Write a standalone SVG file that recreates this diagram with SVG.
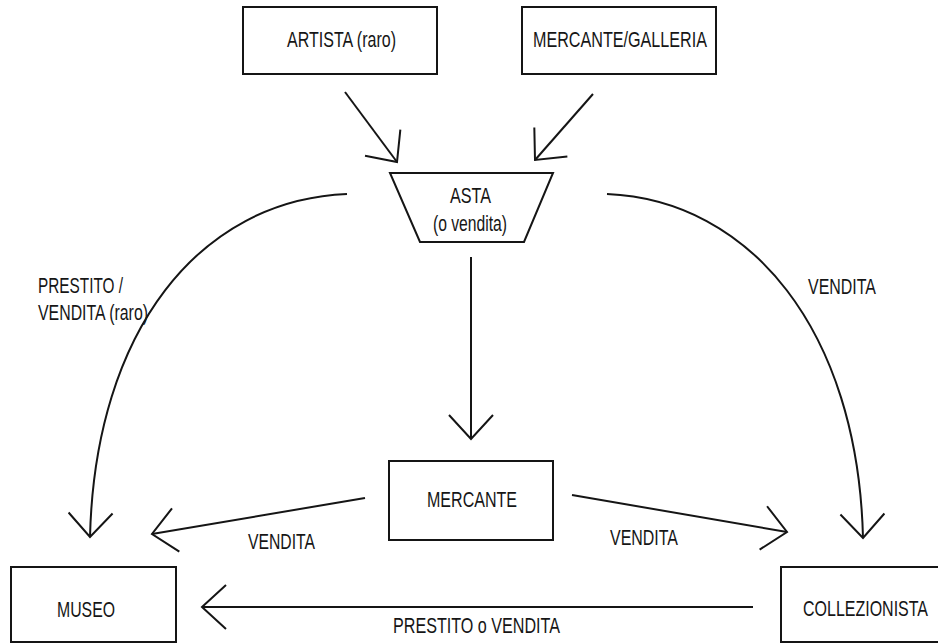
<svg xmlns="http://www.w3.org/2000/svg" width="938" height="644" viewBox="0 0 938 644">
  <defs>
    <style>
      .box { fill: #fff; stroke: #151515; stroke-width: 2; }
      .edge { fill: none; stroke: #151515; stroke-width: 2; marker-end: url(#open); }
      .lbl { font-family: "Liberation Sans", Arial, sans-serif; font-size: 22px; fill: #161616; }
    </style>
    <!-- open V arrowhead -->
    <marker id="open" markerUnits="userSpaceOnUse" markerWidth="60" markerHeight="60" refX="0" refY="0" orient="auto" overflow="visible">
      <path d="M-24,-22 L0,0 L-24,22" fill="none" stroke="#151515" stroke-width="2"/>
    </marker>
  </defs>

  <rect width="938" height="644" fill="#fff"/>

  <g id="connectors">
    <line class="edge" x1="345" y1="92" x2="397" y2="162"/>
    <line class="edge" x1="593" y1="94" x2="535" y2="160"/>
    <path class="edge" d="M347,194 C200,200 95,330 90,537"/>
    <path class="edge" d="M607,194 C750,200 858,330 863,538"/>
    <line class="edge" x1="471" y1="257" x2="471" y2="439"/>
    <line class="edge" x1="365" y1="498" x2="152" y2="534"/>
    <line class="edge" x1="572" y1="495" x2="787" y2="532"/>
    <line class="edge" x1="753" y1="607" x2="202" y2="607"/>

    <text class="lbl" x="38" y="293" textLength="85" lengthAdjust="spacingAndGlyphs">PRESTITO /</text>
    <text class="lbl" x="38" y="320" textLength="110" lengthAdjust="spacingAndGlyphs">VENDITA (raro)</text>
    <text class="lbl" x="808" y="294" textLength="68" lengthAdjust="spacingAndGlyphs">VENDITA</text>
    <text class="lbl" x="248" y="549" textLength="67" lengthAdjust="spacingAndGlyphs">VENDITA</text>
    <text class="lbl" x="610" y="545" textLength="68" lengthAdjust="spacingAndGlyphs">VENDITA</text>
    <text class="lbl" x="393" y="633" textLength="167" lengthAdjust="spacingAndGlyphs">PRESTITO o VENDITA</text>
  </g>

  <g id="artista">
    <rect class="box" x="243" y="7" width="194" height="67"/>
    <text class="lbl" x="287" y="47" textLength="109" lengthAdjust="spacingAndGlyphs">ARTISTA (raro)</text>
  </g>

  <g id="mercante-galleria">
    <rect class="box" x="522" y="7" width="194" height="67"/>
    <text class="lbl" x="533" y="47" textLength="174" lengthAdjust="spacingAndGlyphs">MERCANTE/GALLERIA</text>
  </g>

  <g id="asta">
    <polygon class="box" points="390,173 553,173 524,242 420,242"/>
    <text class="lbl" x="450" y="203" textLength="41" lengthAdjust="spacingAndGlyphs">ASTA</text>
    <text class="lbl" x="433" y="231" textLength="74" lengthAdjust="spacingAndGlyphs">(o vendita)</text>
  </g>

  <g id="mercante">
    <rect class="box" x="389" y="461" width="164" height="79"/>
    <text class="lbl" x="427" y="507" textLength="90" lengthAdjust="spacingAndGlyphs">MERCANTE</text>
  </g>

  <g id="museo">
    <rect class="box" x="11" y="567" width="165" height="75"/>
    <text class="lbl" x="57" y="617" textLength="58" lengthAdjust="spacingAndGlyphs">MUSEO</text>
  </g>

  <g id="collezionista">
    <rect class="box" x="781" y="567" width="170" height="75"/>
    <!-- condensed horizontally so it sits inside the canvas -->
    <text class="lbl" transform="translate(803 616) scale(0.72 1)" x="0" y="0" textLength="173.6" lengthAdjust="spacingAndGlyphs">COLLEZIONISTA</text>
  </g>
</svg>
